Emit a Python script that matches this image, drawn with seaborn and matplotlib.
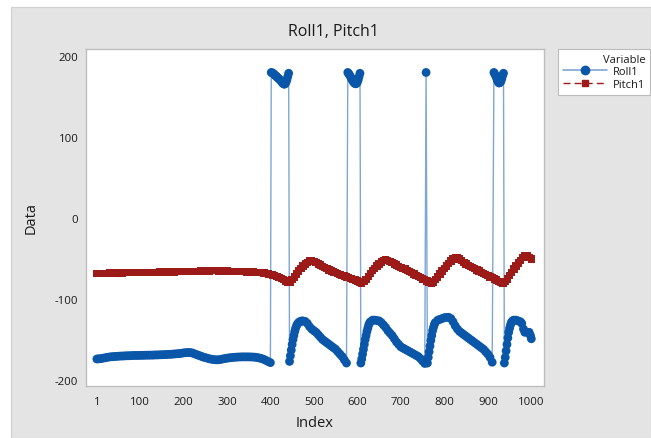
import numpy as np
import pandas as pd
import matplotlib
matplotlib.use("Agg")
import matplotlib.pyplot as plt
from matplotlib.lines import Line2D
from matplotlib.patches import Rectangle
import seaborn as sns

# ---- Roll1: sampled more densely where the angle changes quickly ----
roll_index = (
    [1] + list(range(5, 401, 5))            # slow drift
    + list(range(402, 443, 2))              # first wrap above +180
    + list(range(444, 473, 2)) + list(range(475, 576, 5))
    + list(range(578, 607, 2))              # second wrap
    + list(range(608, 631, 2)) + list(range(635, 756, 5))
    + [758]                                 # single wrapped sample
    + list(range(761, 780, 2)) + list(range(785, 911, 5))
    + list(range(914, 937, 2))              # third wrap
    + list(range(938, 961, 2)) + [965, 970, 975, 978, 982, 985, 990, 995, 998, 1000]
)

roll1 = [
    # 1 .. 400
    -174, -173.8, -173.5, -173, -172.5, -172, -171.5, -171.2, -171, -170.8,
    -170.6, -170.4, -170.3, -170.2, -170, -170, -169.8, -169.7, -169.6, -169.6,
    -169.5, -169.5, -169.4, -169.3, -169.3, -169.2, -169.2, -169, -169, -168.8,
    -168.8, -168.6, -168.5, -168.3, -168.2, -168, -167.8, -167.5, -167.3, -167,
    -166.5, -166.2, -166, -166, -166.5, -167.5, -168.5, -169.5, -170.5, -171.5,
    -172.3, -173, -173.8, -174.3, -174.8, -175, -175, -174.6, -174, -173.5,
    -173, -172.6, -172.3, -172, -171.8, -171.6, -171.5, -171.4, -171.4, -171.4,
    -171.4, -171.5, -171.6, -171.8, -172.2, -172.8, -173.5, -174.5, -175.8, -177.2,
    -178.5,
    # 402 .. 442
    180, 179.5, 179, 178, 177, 176, 175, 174, 173, 172,
    171, 170, 168.5, 167, 166, 165.5, 166, 168, 171, 175, 179,
    # 444 .. 472
    -177, -170, -163, -156, -150, -145, -140, -136, -133, -131,
    -129.5, -128.5, -128, -127.5, -127,
    # 475 .. 575
    -127, -127.5, -130, -134, -137, -139, -141, -144, -147, -150,
    -152, -154, -156, -158, -160, -162, -165, -168, -171, -175, -179,
    # 578 .. 606
    180, 178.5, 177, 175, 173, 171, 169, 167.5, 166.5, 166,
    166.5, 168, 171, 175, 179,
    # 608 .. 630
    -179, -174, -168, -162, -156, -150, -145, -140, -136, -132, -129.5, -128,
    # 635 .. 755
    -126, -126, -126.5, -127, -129, -132, -135, -139, -142, -145,
    -149, -153, -156, -159, -160.5, -162, -163.5, -165, -166.5, -168,
    -169.5, -171, -173.5, -176.5, -179.5,
    # 758
    180,
    # 761 .. 779
    -179, -172, -165, -158, -151, -145, -139, -135, -131.5, -129,
    # 785 .. 910
    -126, -125, -124, -123, -122.5, -122.5, -124, -128, -133, -137,
    -140, -142, -144, -146, -148, -150, -152, -154, -156, -158,
    -160, -162, -165, -168, -172, -178,
    # 914 .. 936
    180, 178, 176, 173, 170, 168, 167, 167.5, 169, 172, 176, 179,
    # 938 .. 960
    -179, -172, -164, -156, -148, -141, -136, -132, -129, -127.5, -126.5, -126,
    # 965 .. 1000
    -126, -127, -128, -130, -137, -141, -141, -141, -145, -149,
]

# ---- Pitch1: every 5th observation ----
pitch_index = [1] + list(range(5, 1001, 5))

pitch1 = [
    # 1 .. 50
    -68, -68, -68, -68, -68, -68, -67.8, -67.8, -67.8, -67.7, -67.7,
    # 55 .. 100
    -67.6, -67.6, -67.5, -67.5, -67.4, -67.4, -67.3, -67.3, -67.2, -67.2,
    # 105 .. 200
    -67.1, -67.1, -67, -67, -66.9, -66.9, -66.8, -66.8, -66.7, -66.7,
    -66.6, -66.6, -66.5, -66.5, -66.4, -66.4, -66.3, -66.3, -66.2, -66.2,
    # 205 .. 300
    -66.1, -66, -66, -65.9, -65.8, -65.7, -65.6, -65.5, -65.4, -65.3,
    -65.2, -65.1, -65, -65, -65, -65.1, -65.2, -65.3, -65.4, -65.5,
    # 305 .. 400
    -65.6, -65.7, -65.8, -65.9, -66, -66.1, -66.2, -66.3, -66.4, -66.5,
    -66.6, -66.7, -66.8, -67, -67.2, -67.5, -67.8, -68.2, -68.8, -69.5,
    # 405 .. 500
    -70.3, -71.2, -72.2, -73.3, -74.5, -76, -77.5, -79.5, -79, -76,
    -72.5, -69, -65.5, -62, -59, -56.5, -54.5, -53, -52.5, -53.5,
    # 505 .. 600
    -55, -56.5, -58, -59.5, -61, -62.5, -64, -65.5, -66.5, -67.5,
    -68.5, -69.5, -70.5, -71.5, -72.5, -73.5, -74.5, -75.5, -76.5, -77.5,
    # 605 .. 700
    -79, -80, -78.5, -75.5, -72, -68.5, -65, -62, -59, -56.5,
    -54, -52, -51, -52, -53.5, -55, -56.5, -58, -59.5, -61,
    # 705 .. 800
    -62, -63, -64.5, -66, -67.5, -69, -70.5, -72, -73.5, -75,
    -76, -77.5, -79, -80, -79, -76, -72.5, -69, -65.5, -62,
    # 805 .. 900
    -59, -56, -53, -50.5, -48.5, -48.5, -50.5, -52.5, -54.5, -56.5,
    -58.5, -60, -61, -62.5, -64, -65.5, -67, -68.5, -70, -71,
    # 905 .. 1000
    -72.5, -73.5, -75, -76.5, -78, -79.5, -80, -78.5, -75, -71,
    -67, -63, -59, -55.5, -52, -49, -46.5, -46.5, -48.5, -50.5,
]

x_ticks = [1, 100, 200, 300, 400, 500, 600, 700, 800, 900, 1000]
y_ticks = [-200, -100, 0, 100, 200]

roll_df = pd.DataFrame({"Index": roll_index, "Data": roll1})
pitch_df = pd.DataFrame({"Index": pitch_index, "Data": pitch1})

sns.set_theme(style="white")
plt.rcParams["font.family"] = ["Open Sans", "DejaVu Sans"]

ROLL_LINE = "#7fa6d6"
ROLL_MARK = "#0a56a8"
PITCH_COL = "#9c1a17"
BG = "#e4e4e4"
EDGE = "#bdbdbd"
TXT = "#1a1a1a"

fig = plt.figure(figsize=(6.51, 4.39), dpi=100, facecolor="white")
# grey graph region behind everything
fig.patches.append(Rectangle((11 / 651, 0), 1 - 11 / 651, 1 - 8 / 439,
                             transform=fig.transFigure, facecolor=BG,
                             edgecolor="#d0d0d0", lw=0.8, zorder=-10))

ax = fig.add_axes([86 / 651, 1 - 386.7 / 439, (543.5 - 86) / 651, (386.7 - 50) / 439])
ax.set_zorder(1)
ax.set_facecolor("white")

sns.lineplot(data=roll_df, x="Index", y="Data", ax=ax, color=ROLL_LINE, lw=1.0, zorder=2)
sns.scatterplot(data=roll_df, x="Index", y="Data", ax=ax, color=ROLL_MARK, s=40,
                marker="o", edgecolor="none", zorder=3)
sns.lineplot(data=pitch_df, x="Index", y="Data", ax=ax, color=PITCH_COL, lw=1.0, zorder=2)
sns.scatterplot(data=pitch_df, x="Index", y="Data", ax=ax, color=PITCH_COL, s=28,
                marker="s", edgecolor="none", zorder=3)

ax.set_xlim(-24, 1028)
ax.set_ylim(-207, 209)
ax.set_xticks(x_ticks)
ax.set_xticklabels([str(t) for t in x_ticks])
ax.set_yticks(y_ticks)
ax.set_yticklabels([str(t) for t in y_ticks])
ax.tick_params(axis="both", which="both", direction="out", length=3.5, width=0.8,
               color="#8a8a8a", labelsize=8.2, labelcolor=TXT, pad=2)
ax.tick_params(axis="x", pad=4)
for s in ax.spines.values():
    s.set_visible(True)
    s.set_color(EDGE)
    s.set_linewidth(1.0)

ax.set_xlabel("Index", fontsize=10.5, color=TXT, labelpad=6)
ax.set_ylabel("Data", fontsize=10.5, color=TXT, labelpad=12)
ax.grid(False)

fig.text(333 / 651, 1 - 32 / 439, "Roll1, Pitch1", ha="center", va="center",
         fontsize=11.5, color=TXT)

handles = [
    Line2D([0], [0], color=ROLL_LINE, lw=1.2, marker="o", markersize=6,
           markerfacecolor=ROLL_MARK, markeredgecolor=ROLL_MARK),
    Line2D([0], [0], color=PITCH_COL, lw=1.0, ls=(0, (5, 3)), marker="s", markersize=5,
           markerfacecolor=PITCH_COL, markeredgecolor=PITCH_COL),
]
leg = fig.legend(handles, ["Roll1", "Pitch1"], title="Variable",
                 loc="upper left", bbox_to_anchor=(558 / 651, 1 - 50 / 439),
                 frameon=True, fancybox=False, framealpha=1, edgecolor="#bcbcbc",
                 fontsize=8, title_fontsize=8, handlelength=4.0,
                 handletextpad=0.5, borderpad=0.45, labelspacing=0.12,
                 borderaxespad=0)
leg.get_frame().set_linewidth(0.8)
leg._legend_box.align = "right"
for t in leg.get_texts():
    t.set_color(TXT)
leg.get_title().set_color(TXT)

fig.savefig("out.png", dpi=100, facecolor=fig.get_facecolor())
